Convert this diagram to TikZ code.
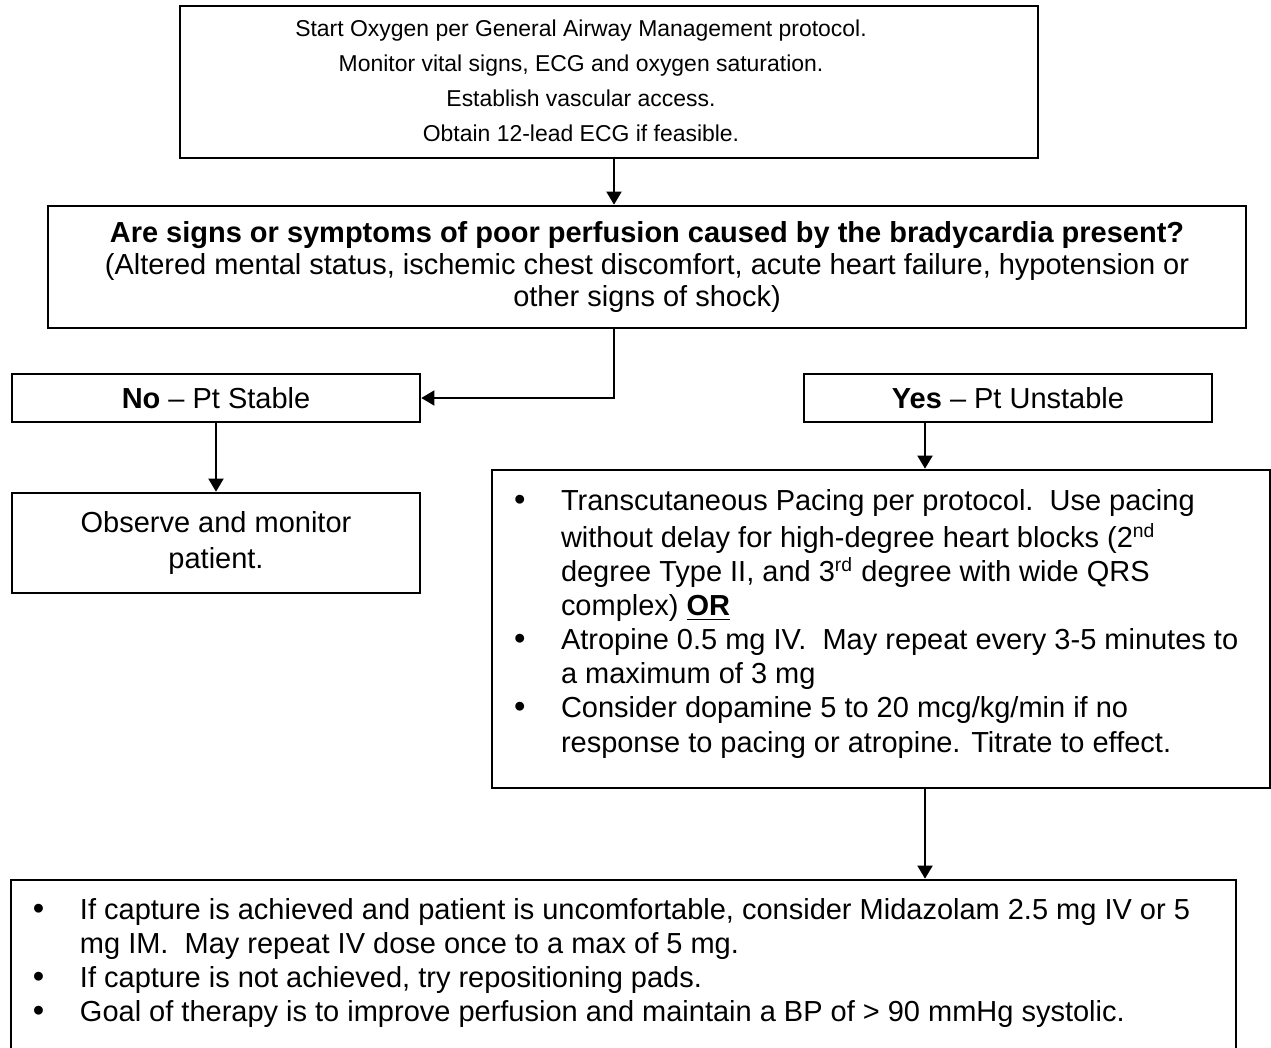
\documentclass[tikz,border=0pt]{standalone}
\usepackage{fontspec}
\setmainfont{Liberation Sans}
\usetikzlibrary{positioning,arrows.meta}
\newlength{\pu}
\setlength{\pu}{0.414pt}
\newcommand{\bitem}{\par\noindent\hangindent=69\pu\hspace*{22\pu}\makebox[47\pu][l]{\fontsize{13.5}{0}\selectfont\textbullet}\strut}

\begin{document}
\begin{tikzpicture}[x=0.414pt, y=-0.414pt,
        box/.style={draw, line width=1.1pt, inner sep=0pt, align=center, font=\fontsize{12}{14.5}\selectfont},
        link/.style={line width=0.85pt, -{Triangle[length=5.4pt, width=6.2pt]}}]
    \useasboundingbox (0,0) rectangle (1271,1048);

    % Assessment
    \node[box, minimum width=858*\pu, minimum height=152*\pu, font=\fontsize{9.5}{14.5}\selectfont] (start) at (609,82)
        {\begin{tabular}{@{}c@{}}Start Oxygen per General Airway Management protocol.\\
         Monitor vital signs, ECG and oxygen saturation.\\
         Establish vascular access.\\
         Obtain 12-lead ECG if feasible.\end{tabular}\hspace*{56\pu}};
    \node[box, minimum width=1198*\pu, minimum height=122*\pu, font=\fontsize{12}{13.45}\selectfont] (quest) at (647,267)
        {\textbf{Are signs or symptoms of poor perfusion caused by the bradycardia present?}\\
         (Altered mental status, ischemic chest discomfort, acute heart failure, hypotension or\\
         other signs of shock)};

    % Stable branch
    \node[box, minimum width=408*\pu, minimum height=48*\pu] (stable) at (216,398) {\textbf{No} -- Pt Stable};
    \node[box, minimum width=408*\pu, minimum height=100*\pu] (observe) at (216,543) {Observe and monitor\\patient.};

    % Unstable branch
    \node[box, minimum width=408*\pu, minimum height=48*\pu] (unstable) at (1008,398) {\textbf{Yes} -- Pt Unstable};
    \node[box] (treat) at (881,629) {\begin{minipage}[c][318\pu][t]{778\pu}
        \fontsize{12}{14.08}\selectfont
        \vspace*{17\pu}
        \bitem Transcutaneous Pacing per protocol.\ \ Use pacing\newline
        without delay for high-degree heart blocks (2\textsuperscript{nd}\newline
        degree Type II, and 3\textsuperscript{rd} degree with wide QRS\newline
        complex) \underline{\textbf{OR}}
        \bitem Atropine 0.5 mg IV.\ \ May repeat every 3-5 minutes to\newline
        a maximum of 3 mg
        \bitem Consider dopamine 5 to 20 mcg/kg/min if no\newline
        response to pacing or atropine. Titrate to effect.\par
        \end{minipage}};
    \node[box] (care) at (623.5,970) {\begin{minipage}[c][180\pu][t]{1225\pu}
        \fontsize{12}{14.08}\selectfont
        \vspace*{16\pu}
        \bitem If capture is achieved and patient is uncomfortable, consider Midazolam 2.5 mg IV or 5\newline
        mg IM.\ \ May repeat IV dose once to a max of 5 mg.
        \bitem If capture is not achieved, try repositioning pads.
        \bitem Goal of therapy is to improve perfusion and maintain a BP of > 90 mmHg systolic.\par
        \end{minipage}};

    % Connectors
    \coordinate (spine) at (614,0);
    \coordinate (drop) at (925,0);
    \draw[link] (start.south -| spine) -- (quest.north -| spine);
    \draw[link] (quest.south -| spine) |- (stable.east);
    \draw[link] (stable) -- (observe);
    \draw[link] (unstable.south -| drop) -- (treat.north -| drop);
    \draw[link] (treat.south -| drop) -- (care.north -| drop);
\end{tikzpicture}
\end{document}
